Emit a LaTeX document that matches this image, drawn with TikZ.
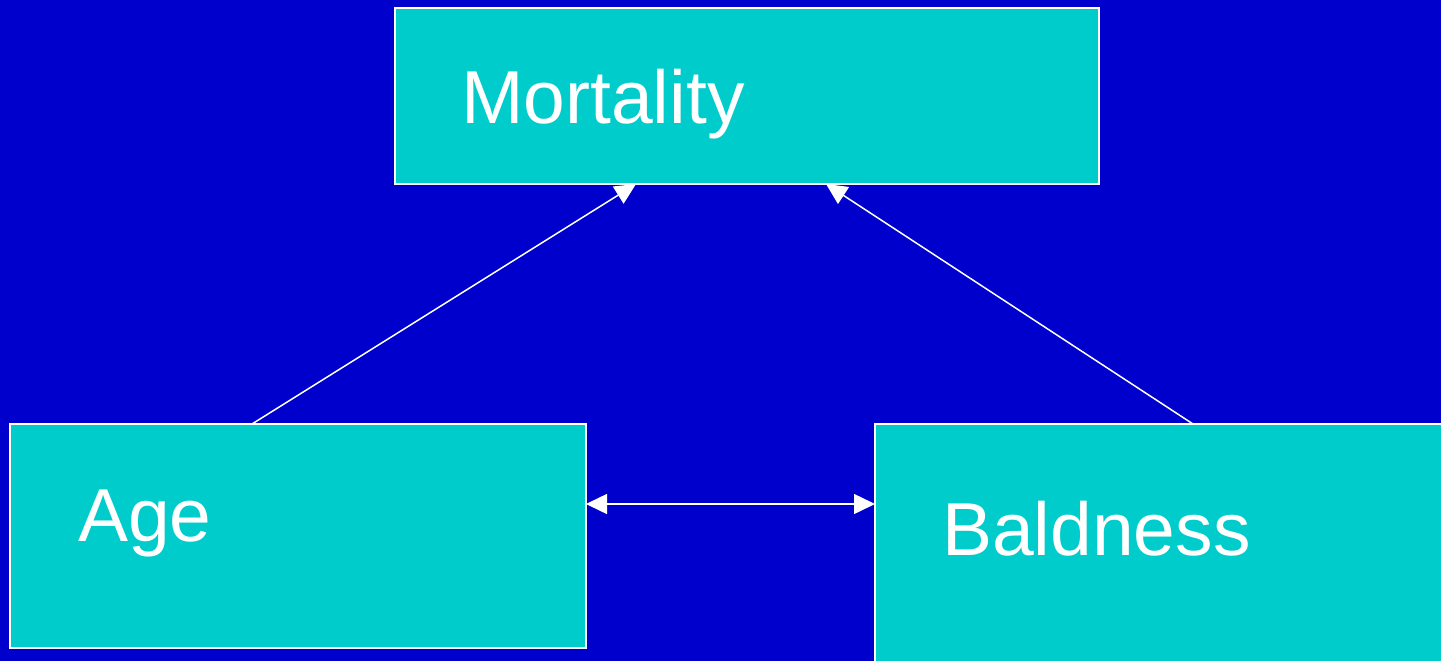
\documentclass[tikz,border=0pt]{standalone}
\usepackage{fontspec}
\setmainfont{Liberation Sans}
\usetikzlibrary{arrows.meta,calc}
\definecolor{slideblue}{HTML}{0000CC}
\definecolor{boxteal}{HTML}{00CCCC}
\pgfdeclarelayer{bg}
\pgfdeclarelayer{links}
\pgfsetlayers{bg,links,main}
\tikzset{
  varbox/.style={draw=white, line width=2pt, fill=boxteal, rectangle,
    anchor=north west, outer sep=0pt, inner sep=0pt},
  varlabel/.style={anchor=base west, text=white, inner sep=0pt,
    font=\fontsize{75}{78}\selectfont},
  link/.style={draw=white, line width=1.5pt,
    -{Triangle[width=20pt,length=21pt]}},
  bilink/.style={draw=white, line width=1.5pt,
    {Triangle[width=20pt,length=21pt]}-{Triangle[width=20pt,length=21pt]}}
}
\begin{document}
\begin{tikzpicture}[x=1pt,y=-1pt]
  \begin{pgfonlayer}{bg}
    \fill[slideblue] (0,0) rectangle (1441,661);
  \end{pgfonlayer}
  \useasboundingbox (0,0) rectangle (1441,661);

  % variable boxes
  \node[varbox, minimum width=704pt, minimum height=176pt] (mort) at (395,8) {};
  \node[varbox, minimum width=576pt, minimum height=224pt] (age) at (10,424) {};
  \node[varbox, minimum width=580pt, minimum height=250pt] (bald) at (875,424) {};

  % labels
  \node[varlabel] (mortlbl) at (461,124) {Mortality};
  \node[varlabel] (agelbl) at (78,541) {Age};
  \node[varlabel] (baldlbl) at (942,555) {Baldness};

  % causal links, drawn beneath the boxes
  \begin{pgfonlayer}{links}
    \draw[link] ([xshift=242pt]age.north west) -- ([xshift=241pt]mort.south west);
    \draw[link] ([xshift=318pt]bald.north west) -- ([xshift=431pt]mort.south west);
    \draw[bilink] ([yshift=-80pt]age.north east) -- ([yshift=-80pt]bald.north west);
  \end{pgfonlayer}
\end{tikzpicture}
\end{document}
